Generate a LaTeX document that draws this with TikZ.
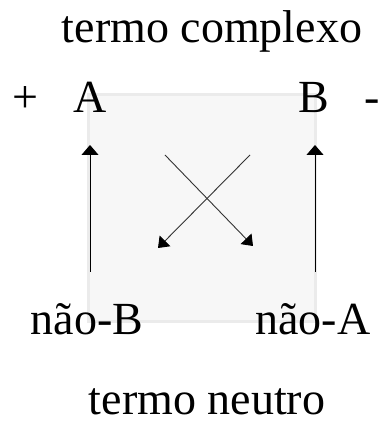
\documentclass[tikz,border=0pt]{standalone}
\usepackage{fontspec}
\setmainfont{Liberation Serif}
\usepackage{xcolor}
\usetikzlibrary{arrows.meta}
\definecolor{box-fill}{HTML}{F7F7F7}
\definecolor{box-edge}{HTML}{EBEBEB}
\definecolor{jet}{HTML}{000000}
\definecolor{cross}{HTML}{333333}

\begin{document}
\begin{tikzpicture}[x=1pt,y=1pt,every node/.style={font=\fontsize{46}{50}\selectfont, inner sep=0pt, anchor=base, color=jet}]
  \useasboundingbox (0,0) rectangle (379,421);
  \fill[box-fill, draw=box-edge, line width=3pt] (88,99) rectangle (315,326);
  \node (complexo) at (212,378) {termo complexo};
  \node (neutro) at (207,6.5) {termo neutro};
  \node (plus) at (25,308) {+};
  \node (a) at (90,308) {A};
  \node (b) at (314,308) {B};
  \node (minus) at (372,308) {-};
  \node (nao-b) at (87,86) {não-B};
  \node (nao-a) at (313,86) {não-A};
  \coordinate (left-foot) at (90,149);
  \coordinate (left-head) at (90,276);
  \coordinate (right-foot) at (315,149);
  \coordinate (right-head) at (315,276);
  \coordinate (cross-a) at (165,266);
  \coordinate (cross-a-tip) at (253,175);
  \coordinate (cross-b) at (250,266);
  \coordinate (cross-b-tip) at (158,173);
  \draw[line width=1pt, -{Triangle[width=17pt,length=10pt]}] (left-foot) -- (left-head);
  \draw[line width=1pt, -{Triangle[width=17pt,length=10pt]}] (right-foot) -- (right-head);
  \draw[line width=0.9pt, color=cross, -{Triangle[width=15pt,length=10pt,color=jet]}] (cross-a) -- (cross-a-tip);
  \draw[line width=0.9pt, color=cross, -{Triangle[width=15pt,length=10pt,color=jet]}] (cross-b) -- (cross-b-tip);
\end{tikzpicture}
\end{document}
